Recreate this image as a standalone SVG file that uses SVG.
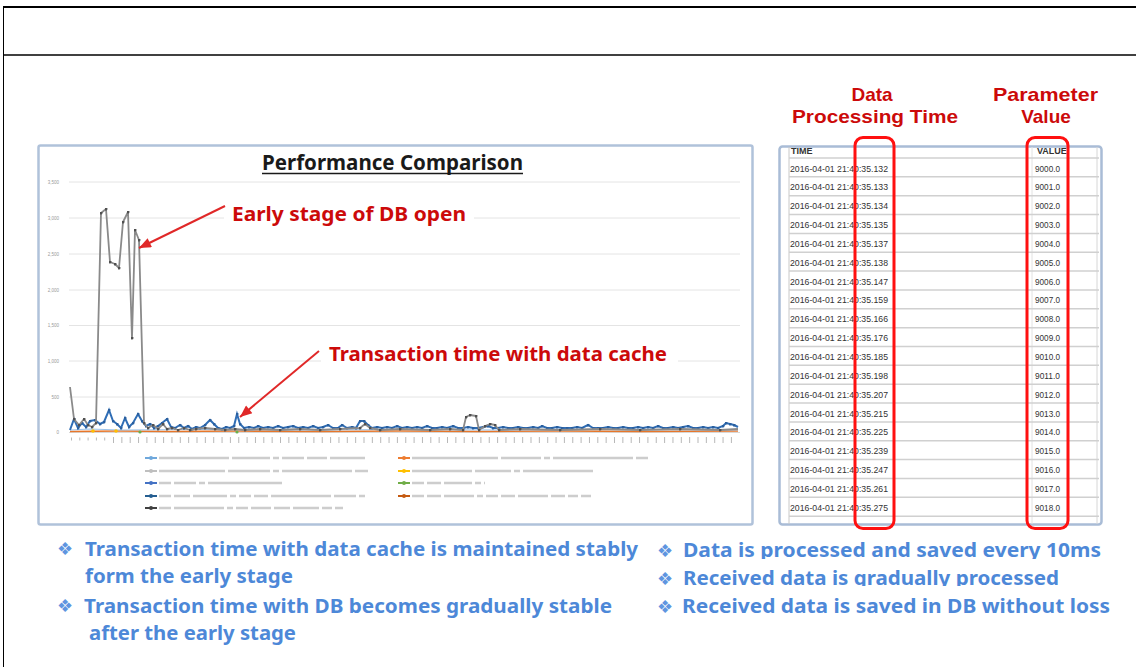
<svg xmlns="http://www.w3.org/2000/svg" width="1136" height="667" viewBox="0 0 1136 667">
<style>
.lbl{font-family:"Noto Sans","Liberation Sans",sans-serif;font-weight:700}
.hd{font-family:"Liberation Sans",sans-serif;font-weight:700;font-size:19px}
.red{fill:#cc0a0a}
.note{fill:#4d88d8;font-size:20px}
.bul{font-family:"DejaVu Sans",sans-serif;fill:#5f95e0;font-size:18px}
.ytk{font-family:"Liberation Sans",sans-serif;font-size:4.5px;fill:#9a9a9a;text-anchor:end}
.grid{stroke:#e4e4e4;stroke-width:1}
.row{stroke:#d0d0d0;stroke-width:1.5}
.tt{font-family:"Liberation Sans",sans-serif;font-size:9px;fill:#333}
.lg{stroke:#bdbdbd;stroke-width:2.5;fill:none;opacity:.75}
.hl{fill:none;stroke:#ff1010;stroke-width:3}
</style>
<defs>
<marker id="ah" viewBox="0 0 12 10" refX="12" refY="5" markerWidth="13" markerHeight="10" markerUnits="userSpaceOnUse" orient="auto"><path d="M0,0 L12,5 L0,10 z" fill="#e02828"/></marker>
<marker id="gd" viewBox="0 0 4 4" refX="2" refY="2" markerWidth="3" markerHeight="3" markerUnits="userSpaceOnUse"><circle cx="2" cy="2" r="2" fill="#505050"/></marker>
<marker id="bd" viewBox="0 0 4 4" refX="2" refY="2" markerWidth="3" markerHeight="3" markerUnits="userSpaceOnUse"><circle cx="2" cy="2" r="2" fill="#2a5f9e"/></marker>
<filter id="soft" x="-5%" y="-50%" width="110%" height="200%"><feGaussianBlur stdDeviation="0.7"/></filter>
<clipPath id="c1"><rect x="640" y="530" width="496" height="29"/></clipPath>
<clipPath id="c2"><rect x="640" y="565" width="496" height="21"/></clipPath>
</defs>
<rect width="1136" height="667" fill="#ffffff"/>

<g id="frame" stroke="#000" fill="none">
<line x1="3" y1="7" x2="1136" y2="7" stroke-width="2"/>
<line x1="3" y1="55" x2="1136" y2="55" stroke-width="1.5"/>
<line x1="3.5" y1="7" x2="3.5" y2="667" stroke-width="1"/>
</g>

<g id="chart">
<rect x="38.5" y="145.5" width="714" height="379" fill="#fff" stroke="#b0c2da" stroke-width="2.5" rx="2"/>
<g class="grid">
<line x1="69" y1="182" x2="740" y2="182"/>
<line x1="69" y1="218" x2="740" y2="218"/>
<line x1="69" y1="254" x2="740" y2="254"/>
<line x1="69" y1="290" x2="740" y2="290"/>
<line x1="69" y1="325.5" x2="740" y2="325.5"/>
<line x1="69" y1="361" x2="740" y2="361"/>
<line x1="69" y1="397" x2="740" y2="397"/>
<line x1="69" y1="432.5" x2="740" y2="432.5" stroke="#d8d8d8"/>
</g>
<g>
<text class="ytk" x="59" y="184">3,500</text>
<text class="ytk" x="59" y="220">3,000</text>
<text class="ytk" x="59" y="256">2,500</text>
<text class="ytk" x="59" y="292">2,000</text>
<text class="ytk" x="59" y="327">1,500</text>
<text class="ytk" x="59" y="363">1,000</text>
<text class="ytk" x="59" y="399">500</text>
<text class="ytk" x="59" y="434">0</text>
</g>
<line x1="71" y1="439" x2="108" y2="439" stroke="#b8b8b8" stroke-width="3" stroke-dasharray="1 7.3"/>
<line x1="113" y1="440" x2="738" y2="440" stroke="#b8b8b8" stroke-width="6" stroke-dasharray="1 7.35"/>
<text class="lbl" x="262" y="170" font-size="20.5" fill="#1a1a1a" textLength="261" lengthAdjust="spacingAndGlyphs">Performance Comparison</text>
<line x1="262" y1="173.5" x2="523" y2="173.5" stroke="#1a1a1a" stroke-width="1.5"/>

<polyline fill="none" stroke="#e8772a" stroke-width="1.6" points="70,431.5 120,431 170,431.5 240,431 320,431.5 400,431 480,431.5 560,431 640,431.5 738,431"/>
<polyline fill="none" stroke="#9dc3ea" stroke-width="1.2" points="70,430 90,429 120,430 200,429.5 300,430 400,429.5 500,430 600,429.5 738,430"/>
<polyline fill="none" stroke="#2f6db5" stroke-width="2" marker-mid="url(#bd)" points="70,430 74,419 78,428 82,423 86,427 90,421 95,420 100,424 104,422 109,410 113,421 117,424 121,428 125,418 129,427 133,423 138,414 142,421 146,426 150,424 154,428 158,426 162,423 167,419 171,427 175,428 180,425 184,428 188,426 192,429 196,427 200,428 205,425 210,420 214,424 218,428 222,429 226,427 230,428 234,426 237,414 240,424 244,428 249,427 254,428 258,426 263,428 268,427 273,428 278,426 283,428 288,427 293,426 298,428 303,427 308,428 313,426 318,428 323,427 328,425 333,428 338,428 342,425 347,428 352,427 356,428 360,421 364,421 368,425 372,428 377,427 382,428 387,427 392,428 397,426 402,428 407,427 412,428 417,427 422,428 427,426 432,428 437,428 442,427 447,428 453,426 458,428 463,428 468,427 473,428 478,428 483,427 488,426 493,428 498,428 503,427 508,428 513,428 518,427 523,428 528,428 533,427 538,428 542,426 547,428 552,428 557,427 562,428 567,428 572,428 577,427 582,428 588,425 593,428 598,428 603,428 608,427 613,428 618,428 623,427 628,428 633,428 638,427 643,428 648,427 653,428 658,426 663,428 668,428 673,427 678,428 683,427 688,426 693,428 698,428 703,427 708,428 713,427 718,428 723,426 726,423 730,424 734,425 738,427"/>
<polyline fill="none" stroke="#8a8a8a" stroke-width="1.8" stroke-linejoin="round" marker-mid="url(#gd)" points="70,387 74,419 79,425 84,419 88,425 92,427 96,423 101,213 106,209 110,262 115,264 119,268 123,222 128,212 132,338 135,230 139,240 144,423 148,428 153,425 158,429 163,424 167,429 172,428 178,430 184,428 190,430 196,429 205,428 215,429 225,430 235,429 245,430 260,429 280,430 300,429 320,430 340,429 360,428 365,424 370,428 380,430 400,429 430,430 450,429 463,430 466,417 470,415 476,416 479,430 485,426 490,424 495,425 499,430 520,429 560,430 600,429 640,430 680,429 720,430 738,429"/>
<g fill="#ffc000"><circle cx="93" cy="431" r="1.8"/><circle cx="116" cy="431" r="1.8"/></g>
<g fill="#6ab04c"><circle cx="140" cy="432" r="1.6"/><circle cx="237" cy="432" r="1.6"/></g>

<rect x="224" y="201" width="250" height="26" fill="#fff"/>
<rect x="321" y="341" width="357" height="26" fill="#fff"/>

<g id="legend">
<g stroke-width="2"><line x1="145" y1="458" x2="157" y2="458" stroke="#6fa8dc"/><line x1="145" y1="471" x2="157" y2="471" stroke="#bfbfbf"/><line x1="145" y1="483" x2="157" y2="483" stroke="#4472c4"/><line x1="145" y1="496" x2="157" y2="496" stroke="#255e91"/><line x1="145" y1="508" x2="157" y2="508" stroke="#404040"/>
<line x1="398" y1="458" x2="410" y2="458" stroke="#ed7d31"/><line x1="398" y1="471" x2="410" y2="471" stroke="#ffc000"/><line x1="398" y1="483" x2="410" y2="483" stroke="#70ad47"/><line x1="398" y1="496" x2="410" y2="496" stroke="#c55a11"/></g>
<g stroke="none"><circle cx="151" cy="458" r="2" fill="#6fa8dc"/><circle cx="151" cy="471" r="2" fill="#bfbfbf"/><circle cx="151" cy="483" r="2" fill="#4472c4"/><circle cx="151" cy="496" r="2" fill="#255e91"/><circle cx="151" cy="508" r="2" fill="#404040"/><circle cx="404" cy="458" r="2" fill="#ed7d31"/><circle cx="404" cy="471" r="2" fill="#ffc000"/><circle cx="404" cy="483" r="2" fill="#70ad47"/><circle cx="404" cy="496" r="2" fill="#c55a11"/></g>
<g class="lg" filter="url(#soft)">
<line x1="159" y1="458" x2="365" y2="458" stroke-dasharray="70 3 38 3 6 3 22 3 20 3 40"/>
<line x1="159" y1="471" x2="368" y2="471" stroke-dasharray="66 3 42 3 6 3 70 3 20"/>
<line x1="159" y1="483" x2="282" y2="483" stroke-dasharray="12 3 22 3 6 3 80"/>
<line x1="159" y1="496" x2="365" y2="496" stroke-dasharray="12 3 16 3 34 3 6 3 12 3 14 3 60 3 22 3 10 3 10"/>
<line x1="159" y1="508" x2="345" y2="508" stroke-dasharray="12 3 50 3 6 3 12 3 20 3 16 3 26 3 10 3 8"/>
<line x1="412" y1="458" x2="648" y2="458" stroke-dasharray="86 3 40 3 6 3 80 3 18"/>
<line x1="412" y1="471" x2="597" y2="471" stroke-dasharray="60 3 36 3 6 3 70"/>
<line x1="412" y1="483" x2="485" y2="483" stroke-dasharray="12 3 14 3 28 3 6 3 12"/>
<line x1="412" y1="496" x2="592" y2="496" stroke-dasharray="12 3 14 3 30 3 6 3 12 3 14 3 30 3 14 3 10 3 10"/>
</g>
</g>
</g>

<g id="annotation-db">
<text class="lbl red" x="232" y="221" font-size="20" textLength="234" lengthAdjust="spacingAndGlyphs">Early stage of DB open</text>
</g>
<g id="annotation-cache">
<text class="lbl red" x="329" y="361" font-size="20" textLength="338" lengthAdjust="spacingAndGlyphs">Transaction time with data cache</text>
</g>

<g id="connectors" stroke="#e02828" stroke-width="2" fill="none">
<line x1="225" y1="206" x2="139" y2="248" marker-end="url(#ah)"/>
<line x1="319" y1="351" x2="240" y2="417" marker-end="url(#ah)"/>
</g>

<g id="table">
<rect x="779.5" y="146.5" width="322" height="378" rx="3" fill="#fff" stroke="#a9bcd6" stroke-width="2.5"/>
<line x1="789" y1="147" x2="789" y2="524" stroke="#c8c8c8" stroke-width="1"/>
<line x1="1032" y1="147" x2="1032" y2="524" stroke="#e2e2e2" stroke-width="1"/>
<line x1="1097" y1="147" x2="1097" y2="524" stroke="#d6d6d6" stroke-width="1"/>
<g class="row">
<line x1="789" y1="158" x2="1099" y2="158"/><line x1="789" y1="176.85" x2="1099" y2="176.85"/><line x1="789" y1="195.7" x2="1099" y2="195.7"/><line x1="789" y1="214.55" x2="1099" y2="214.55"/><line x1="789" y1="233.4" x2="1099" y2="233.4"/><line x1="789" y1="252.25" x2="1099" y2="252.25"/><line x1="789" y1="271.1" x2="1099" y2="271.1"/><line x1="789" y1="289.95" x2="1099" y2="289.95"/><line x1="789" y1="308.8" x2="1099" y2="308.8"/><line x1="789" y1="327.65" x2="1099" y2="327.65"/><line x1="789" y1="346.5" x2="1099" y2="346.5"/><line x1="789" y1="365.35" x2="1099" y2="365.35"/><line x1="789" y1="384.2" x2="1099" y2="384.2"/><line x1="789" y1="403.05" x2="1099" y2="403.05"/><line x1="789" y1="421.9" x2="1099" y2="421.9"/><line x1="789" y1="440.75" x2="1099" y2="440.75"/><line x1="789" y1="459.6" x2="1099" y2="459.6"/><line x1="789" y1="478.45" x2="1099" y2="478.45"/><line x1="789" y1="497.3" x2="1099" y2="497.3"/><line x1="789" y1="516.15" x2="1099" y2="516.15"/>
</g>
<text class="tt" x="791" y="154" font-size="7.5" font-weight="700" fill="#222">TIME</text>
<text class="tt" x="1037" y="154" font-size="7.5" font-weight="700" fill="#222">VALUE</text>
<g class="tt">
<text x="790" y="171.5" textLength="98" lengthAdjust="spacingAndGlyphs">2016-04-01 21:40:35.132</text>
<text x="790" y="190.35" textLength="98" lengthAdjust="spacingAndGlyphs">2016-04-01 21:40:35.133</text>
<text x="790" y="209.2" textLength="98" lengthAdjust="spacingAndGlyphs">2016-04-01 21:40:35.134</text>
<text x="790" y="228.05" textLength="98" lengthAdjust="spacingAndGlyphs">2016-04-01 21:40:35.135</text>
<text x="790" y="246.9" textLength="98" lengthAdjust="spacingAndGlyphs">2016-04-01 21:40:35.137</text>
<text x="790" y="265.75" textLength="98" lengthAdjust="spacingAndGlyphs">2016-04-01 21:40:35.138</text>
<text x="790" y="284.6" textLength="98" lengthAdjust="spacingAndGlyphs">2016-04-01 21:40:35.147</text>
<text x="790" y="303.45" textLength="98" lengthAdjust="spacingAndGlyphs">2016-04-01 21:40:35.159</text>
<text x="790" y="322.3" textLength="98" lengthAdjust="spacingAndGlyphs">2016-04-01 21:40:35.166</text>
<text x="790" y="341.15" textLength="98" lengthAdjust="spacingAndGlyphs">2016-04-01 21:40:35.176</text>
<text x="790" y="360" textLength="98" lengthAdjust="spacingAndGlyphs">2016-04-01 21:40:35.185</text>
<text x="790" y="378.85" textLength="98" lengthAdjust="spacingAndGlyphs">2016-04-01 21:40:35.198</text>
<text x="790" y="397.7" textLength="98" lengthAdjust="spacingAndGlyphs">2016-04-01 21:40:35.207</text>
<text x="790" y="416.55" textLength="98" lengthAdjust="spacingAndGlyphs">2016-04-01 21:40:35.215</text>
<text x="790" y="435.4" textLength="98" lengthAdjust="spacingAndGlyphs">2016-04-01 21:40:35.225</text>
<text x="790" y="454.25" textLength="98" lengthAdjust="spacingAndGlyphs">2016-04-01 21:40:35.239</text>
<text x="790" y="473.1" textLength="98" lengthAdjust="spacingAndGlyphs">2016-04-01 21:40:35.247</text>
<text x="790" y="491.95" textLength="98" lengthAdjust="spacingAndGlyphs">2016-04-01 21:40:35.261</text>
<text x="790" y="510.8" textLength="98" lengthAdjust="spacingAndGlyphs">2016-04-01 21:40:35.275</text>
</g>
<g class="tt">
<text x="1035" y="171.5" textLength="25" lengthAdjust="spacingAndGlyphs">9000.0</text>
<text x="1035" y="190.35" textLength="25" lengthAdjust="spacingAndGlyphs">9001.0</text>
<text x="1035" y="209.2" textLength="25" lengthAdjust="spacingAndGlyphs">9002.0</text>
<text x="1035" y="228.05" textLength="25" lengthAdjust="spacingAndGlyphs">9003.0</text>
<text x="1035" y="246.9" textLength="25" lengthAdjust="spacingAndGlyphs">9004.0</text>
<text x="1035" y="265.75" textLength="25" lengthAdjust="spacingAndGlyphs">9005.0</text>
<text x="1035" y="284.6" textLength="25" lengthAdjust="spacingAndGlyphs">9006.0</text>
<text x="1035" y="303.45" textLength="25" lengthAdjust="spacingAndGlyphs">9007.0</text>
<text x="1035" y="322.3" textLength="25" lengthAdjust="spacingAndGlyphs">9008.0</text>
<text x="1035" y="341.15" textLength="25" lengthAdjust="spacingAndGlyphs">9009.0</text>
<text x="1035" y="360" textLength="25" lengthAdjust="spacingAndGlyphs">9010.0</text>
<text x="1035" y="378.85" textLength="25" lengthAdjust="spacingAndGlyphs">9011.0</text>
<text x="1035" y="397.7" textLength="25" lengthAdjust="spacingAndGlyphs">9012.0</text>
<text x="1035" y="416.55" textLength="25" lengthAdjust="spacingAndGlyphs">9013.0</text>
<text x="1035" y="435.4" textLength="25" lengthAdjust="spacingAndGlyphs">9014.0</text>
<text x="1035" y="454.25" textLength="25" lengthAdjust="spacingAndGlyphs">9015.0</text>
<text x="1035" y="473.1" textLength="25" lengthAdjust="spacingAndGlyphs">9016.0</text>
<text x="1035" y="491.95" textLength="25" lengthAdjust="spacingAndGlyphs">9017.0</text>
<text x="1035" y="510.8" textLength="25" lengthAdjust="spacingAndGlyphs">9018.0</text>
</g>
</g>

<g id="highlight-time">
<rect class="hl" x="855" y="137.5" width="39" height="391" rx="8"/>
<text class="hd red" x="872" y="100.5" text-anchor="middle">Data</text>
<text class="hd red" x="792" y="123" textLength="166" lengthAdjust="spacingAndGlyphs">Processing Time</text>
</g>
<g id="highlight-value">
<rect class="hl" x="1027" y="137.5" width="41" height="391" rx="8"/>
<text class="hd red" x="993" y="100.5" textLength="105" lengthAdjust="spacingAndGlyphs">Parameter</text>
<text class="hd red" x="1046" y="123" text-anchor="middle">Value</text>
</g>

<g id="notes-chart">
<text class="bul" x="57" y="555">❖</text>
<text class="lbl note" x="85" y="556" textLength="553" lengthAdjust="spacingAndGlyphs">Transaction time with data cache is maintained stably</text>
<text class="lbl note" x="85" y="583" textLength="208" lengthAdjust="spacingAndGlyphs">form the early stage</text>
<text class="bul" x="57" y="612">❖</text>
<text class="lbl note" x="84" y="613" textLength="528" lengthAdjust="spacingAndGlyphs">Transaction time with DB becomes gradually stable</text>
<text class="lbl note" x="89" y="640" textLength="207" lengthAdjust="spacingAndGlyphs">after the early stage</text>
</g>
<g id="notes-table">
<text class="bul" x="657" y="557">❖</text>
<text class="lbl note" x="683" y="557" font-size="19.5" textLength="418" lengthAdjust="spacingAndGlyphs" clip-path="url(#c1)">Data is processed and saved every 10ms</text>
<text class="bul" x="657" y="585">❖</text>
<text class="lbl note" x="683" y="585" font-size="19.5" textLength="376" lengthAdjust="spacingAndGlyphs" clip-path="url(#c2)">Received data is gradually processed</text>
<text class="bul" x="657" y="613">❖</text>
<text class="lbl note" x="682" y="613" font-size="19.5" textLength="428" lengthAdjust="spacingAndGlyphs">Received data is saved in DB without loss</text>
</g>
</svg>
